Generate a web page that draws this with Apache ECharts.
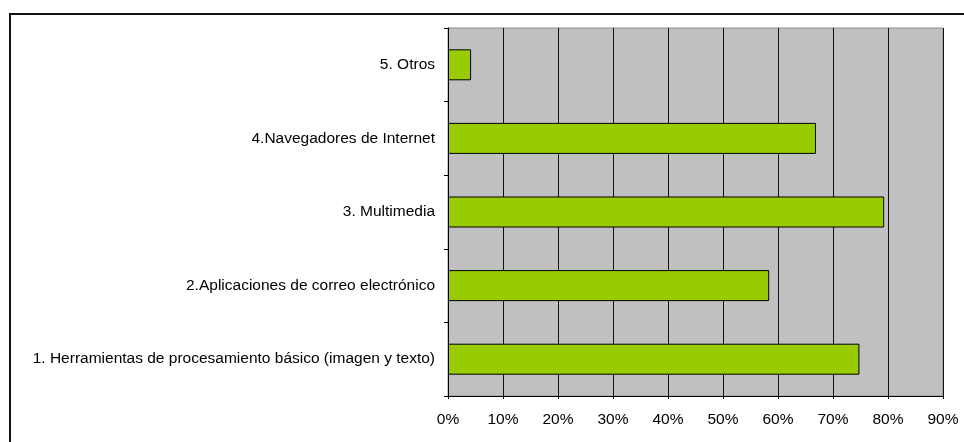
<!DOCTYPE html>
<html>
<head>
<meta charset="utf-8">
<script src="https://cdn.jsdelivr.net/npm/echarts@6/dist/echarts.min.js"></script>
<style>
  html, body { margin: 0; padding: 0; background: #fff; }
  #main { width: 964px; height: 442px; }
</style>
</head>
<body>
<div id="main"></div>
<script>
// categories from bottom to top
const categories = [
  '1. Herramientas de procesamiento básico (imagen y texto)',
  '2.Aplicaciones de correo electrónico',
  '3. Multimedia',
  '4.Navegadores de Internet',
  '5. Otros'
]
const values = [74.8, 58.4, 79.3, 66.9, 4.2]
const xMin = 0
const xMax = 90
const xStep = 10

const chart = echarts.init(document.getElementById('main'))
const option = {
  animation: false,
  textStyle: { fontFamily: 'Liberation Sans, Arial, sans-serif' },
  graphic: [
    {
      type: 'rect',
      shape: { x: 10, y: 14, width: 1000, height: 500 },
      style: { fill: 'none', stroke: '#111', lineWidth: 2 },
      silent: true
    }
  ],
  grid: {
    left: 448,
    top: 28,
    right: 21,
    bottom: 46,
    show: true,
    backgroundColor: '#c0c0c0',
    borderColor: '#8c8c8c',
    borderWidth: 1
  },
  xAxis: {
    type: 'value',
    min: xMin,
    max: xMax,
    interval: xStep,
    axisLine: { show: true, lineStyle: { color: '#000', width: 1 } },
    axisTick: { show: true, length: 3, lineStyle: { color: '#000' } },
    axisLabel: {
      color: '#000',
      fontSize: 15.5,
      margin: 16,
      formatter: '{value}%'
    },
    splitLine: { show: true, lineStyle: { color: '#111', width: 1 } }
  },
  yAxis: {
    type: 'category',
    data: categories,
    axisLine: { show: true, lineStyle: { color: '#000', width: 1 } },
    axisTick: { show: true, length: 4, lineStyle: { color: '#000' } },
    axisLabel: { color: '#000', fontSize: 15.5, margin: 13 },
    splitLine: { show: false }
  },
  series: [
    {
      type: 'bar',
      data: values,
      barWidth: 31,
      itemStyle: {
        color: '#99cc00',
        borderColor: '#000',
        borderWidth: 1
      }
    }
  ]
}
chart.setOption(option)
</script>
</body>
</html>
